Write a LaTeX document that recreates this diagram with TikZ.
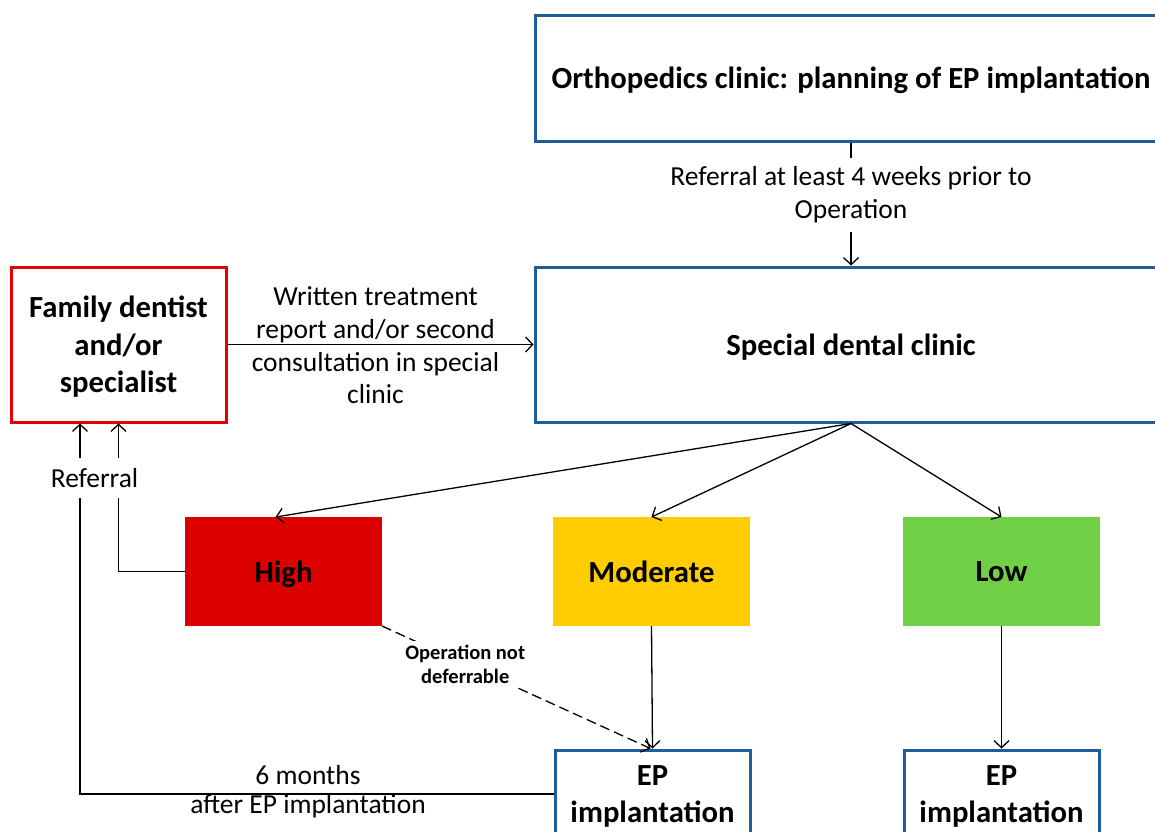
\documentclass[tikz,border=0pt]{standalone}
\usepackage{fontspec}
\setmainfont{Carlito}
\usetikzlibrary{arrows.meta,calc}
\definecolor{bluebd}{RGB}{31,93,152}
\definecolor{redbd}{RGB}{228,0,0}
\definecolor{highc}{RGB}{221,0,0}
\definecolor{modc}{RGB}{255,204,0}
\definecolor{lowc}{RGB}{112,207,68}
\tikzset{
  bigtxt/.style={font=\fontsize{30.7}{37.5}\selectfont\bfseries},
  normtxt/.style={font=\fontsize{27.5}{32.7}\selectfont},
  smalltxt/.style={font=\fontsize{20.5}{24}\selectfont\bfseries},
  bluebox/.style={draw=bluebd, line width=3pt, fill=white, bigtxt, align=center, text depth=0pt},
  redbox/.style={draw=redbd, line width=3pt, fill=white, bigtxt, align=center, text depth=0pt},
  levelbox/.style={draw=none, bigtxt, minimum width=197pt, minimum height=109pt, outer sep=0pt, text depth=0pt},
  conn/.style={line width=1.3pt, draw=black},
  arr/.style={conn, -{Straight Barb[length=7pt,width=15pt,line width=1.3pt]}},
}
\begin{document}
\begin{tikzpicture}[x=1pt,y=-1pt]
\useasboundingbox[fill=white] (0,0) rectangle (1155,831);

\node[bluebox, minimum width=632pt, minimum height=126pt] (ortho) at (851,78) {Orthopedics clinic: planning of EP implantation};
\node[bluebox, minimum width=632pt, minimum height=155pt] (special) at (851,344.5) {Special dental clinic};
\node[redbox, minimum width=215pt, minimum height=155pt] (family) at (118.5,344.5) {Family dentist\\and/or\\specialist};

\node[levelbox, fill=highc] (high) at (283.5,571.5) {High};
\node[levelbox, fill=modc] (mod) at (651.5,571.5) {Moderate};
\node[levelbox, fill=lowc] (low) at (1001.5,571.5) {Low};

\node[bluebox, minimum width=195pt, minimum height=88pt] (ep1) at (652.5,794) {EP\\implantation};
\node[bluebox, minimum width=195pt, minimum height=88pt] (ep2) at (1001.5,794) {EP\\implantation};

% orthopedics -> special
\node[normtxt, align=center, inner ysep=9pt] (lab1) at (851,195) {Referral at least 4 weeks prior to\\Operation};
\draw[conn] (ortho.south) -- (lab1.north);
\draw[arr] (lab1.south) -- (special.north);

% family -> special
\draw[arr] (family.east) -- (special.west)
  node[midway, xshift=-5pt, yshift=-1pt, normtxt, align=center] {Written treatment\\report and/or second\\consultation in special\\clinic};

% special -> levels
\draw[arr] (special.south) -- ([xshift=-8pt]high.north);
\draw[arr] (special.south) -- (mod.north);
\draw[arr] (special.south) -- (low.north);

% levels -> EP
\draw[arr] (mod.south) -- (ep1.north);
\draw[arr] (low.south) -- (ep2.north);
\draw[arr, dashed, dash pattern=on 10pt off 5pt] (high.south east) -- ([xshift=-2pt]ep1.north)
  node[pos=0.31, fill=white, smalltxt, align=center, inner xsep=3pt, inner ysep=4pt] {Operation not\\deferrable};

% back to family
\draw[arr] (high.west) -| (family.south);
\draw[arr] (ep1.west) -| ([xshift=-38.5pt]family.south);
\node[normtxt, fill=white, inner xsep=3pt, inner ysep=10pt] (ref) at (94.5,478) {Referral};
\node[normtxt] (six) at (308,775) {6 months};
\node[normtxt] (after) at (308,806) {after EP implantation};
\end{tikzpicture}
\end{document}
